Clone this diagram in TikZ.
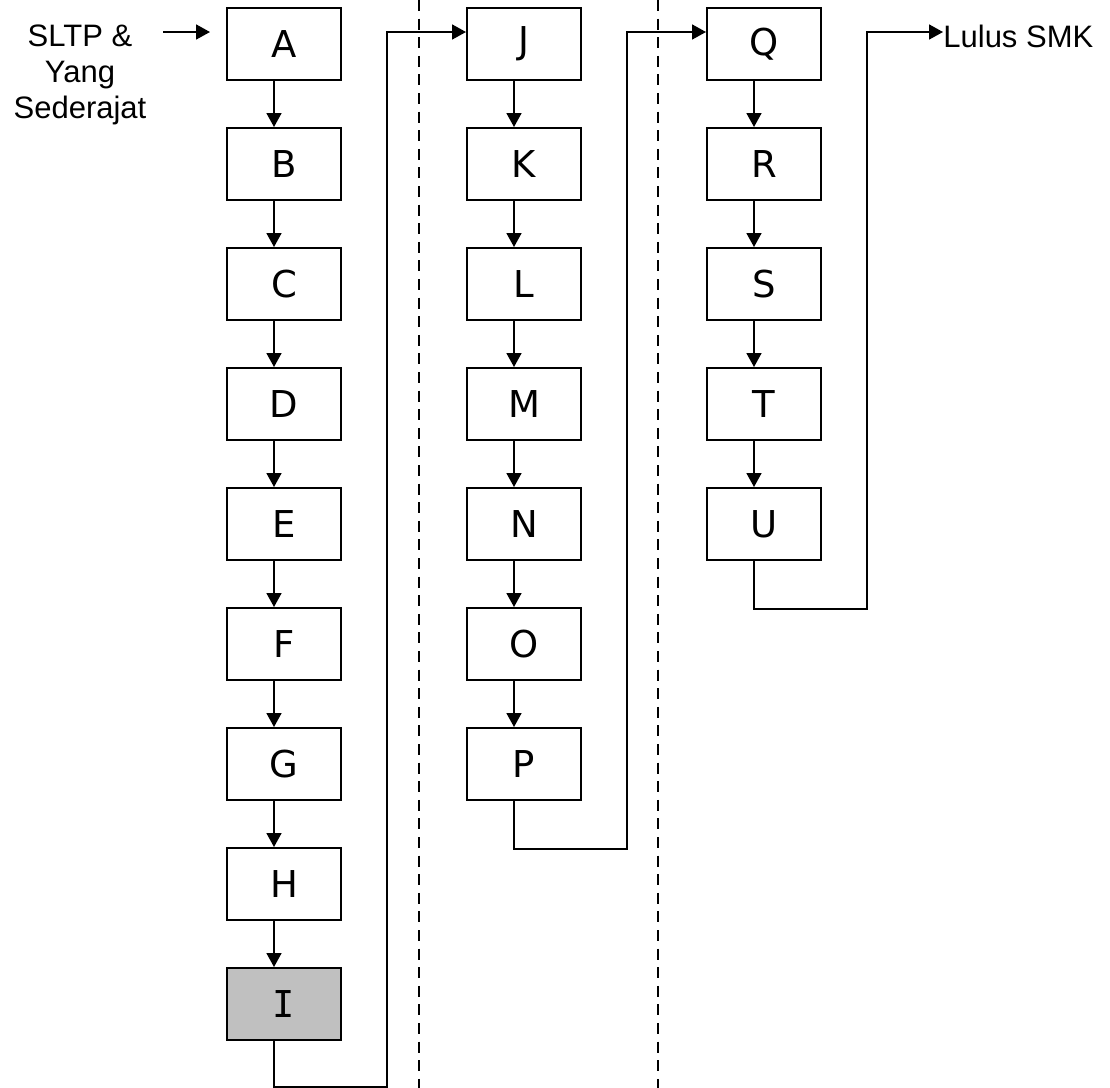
\documentclass[tikz,border=0pt]{standalone}
\usepackage{fontspec}
\setmainfont{Liberation Sans}
\newfontfamily\boxfont{DejaVu Sans}
\newfontfamily\serifI{DejaVu Sans Mono}
\usetikzlibrary{arrows.meta}
\definecolor{shade}{RGB}{192,192,192}

\begin{document}
\begin{tikzpicture}[
    x=0.5pt, y=-0.5pt,
    stage/.style={draw=black, line width=1pt, minimum width=57pt, minimum height=36pt, inner sep=0pt, font=\boxfont\fontsize{18.5}{22}\selectfont},
    flow/.style={-{Triangle[length=7pt, width=7.5pt]}, line width=0.85pt},
    divider/.style={dash pattern=on 5.5pt off 3.8pt, line width=1pt},
    label/.style={font=\fontsize{15.5}{18}\selectfont, inner sep=0pt}
]

    % Cornice dell'immagine
    \useasboundingbox (0,0) rectangle (1110,1088);

    % Ascisse delle tre colonne
    \def\ca{284}
    \def\cb{524}
    \def\cc{764}

    % 1. Linee tratteggiate di separazione
    \draw[divider] (419,0) -- (419,1088);
    \draw[divider] (658,0) -- (658,1088);

    % 2. Prima colonna
    \node[stage] (A) at (\ca,44) {A};
    \node[stage] (B) at (\ca,164) {B};
    \node[stage] (C) at (\ca,284) {C};
    \node[stage] (D) at (\ca,404) {D};
    \node[stage] (E) at (\ca,524) {E};
    \node[stage] (F) at (\ca,644) {F};
    \node[stage] (G) at (\ca,764) {G};
    \node[stage] (H) at (\ca,884) {H};
    \node[stage, fill=shade] (I) at (\ca,1004) {\serifI I};

    % Seconda colonna
    \node[stage] (J) at (\cb,44) {J};
    \node[stage] (K) at (\cb,164) {K};
    \node[stage] (L) at (\cb,284) {L};
    \node[stage] (M) at (\cb,404) {M};
    \node[stage] (N) at (\cb,524) {N};
    \node[stage] (O) at (\cb,644) {O};
    \node[stage] (P) at (\cb,764) {P};

    % Terza colonna
    \node[stage] (Q) at (\cc,44) {Q};
    \node[stage] (R) at (\cc,164) {R};
    \node[stage] (S) at (\cc,284) {S};
    \node[stage] (T) at (\cc,404) {T};
    \node[stage] (U) at (\cc,524) {U};

    % 3. Ingresso e uscita
    \node[label, align=center] (sltp) at (80,75) {SLTP \&\\Yang\\Sederajat};
    \coordinate (entry) at (163,32);
    \node[label, anchor=west] (lulus) at (943,36) {Lulus SMK};

    \draw[flow, shorten >=8pt] (entry) -- ([yshift=6pt]A.west);

    % 4. Frecce verticali
    \draw[flow] ([xshift=-5pt]A.south) -- ([xshift=-5pt]B.north);
    \draw[flow] ([xshift=-5pt]B.south) -- ([xshift=-5pt]C.north);
    \draw[flow] ([xshift=-5pt]C.south) -- ([xshift=-5pt]D.north);
    \draw[flow] ([xshift=-5pt]D.south) -- ([xshift=-5pt]E.north);
    \draw[flow] ([xshift=-5pt]E.south) -- ([xshift=-5pt]F.north);
    \draw[flow] ([xshift=-5pt]F.south) -- ([xshift=-5pt]G.north);
    \draw[flow] ([xshift=-5pt]G.south) -- ([xshift=-5pt]H.north);
    \draw[flow] ([xshift=-5pt]H.south) -- ([xshift=-5pt]I.north);

    \draw[flow] ([xshift=-5pt]J.south) -- ([xshift=-5pt]K.north);
    \draw[flow] ([xshift=-5pt]K.south) -- ([xshift=-5pt]L.north);
    \draw[flow] ([xshift=-5pt]L.south) -- ([xshift=-5pt]M.north);
    \draw[flow] ([xshift=-5pt]M.south) -- ([xshift=-5pt]N.north);
    \draw[flow] ([xshift=-5pt]N.south) -- ([xshift=-5pt]O.north);
    \draw[flow] ([xshift=-5pt]O.south) -- ([xshift=-5pt]P.north);

    \draw[flow] ([xshift=-5pt]Q.south) -- ([xshift=-5pt]R.north);
    \draw[flow] ([xshift=-5pt]R.south) -- ([xshift=-5pt]S.north);
    \draw[flow] ([xshift=-5pt]S.south) -- ([xshift=-5pt]T.north);
    \draw[flow] ([xshift=-5pt]T.south) -- ([xshift=-5pt]U.north);

    % 5. Passaggi tra le colonne
    \draw[flow] ([xshift=-5pt]I.south) -- ++(0,46) -- ++(113,0) |- ([yshift=6pt]J.west);
    \draw[flow] ([xshift=-5pt]P.south) -- ++(0,48) -- ++(113,0) |- ([yshift=6pt]Q.west);
    \draw[flow] ([xshift=-5pt]U.south) -- ++(0,48) -- ++(113,0) |- ([yshift=2pt]lulus.west);

\end{tikzpicture}
\end{document}
